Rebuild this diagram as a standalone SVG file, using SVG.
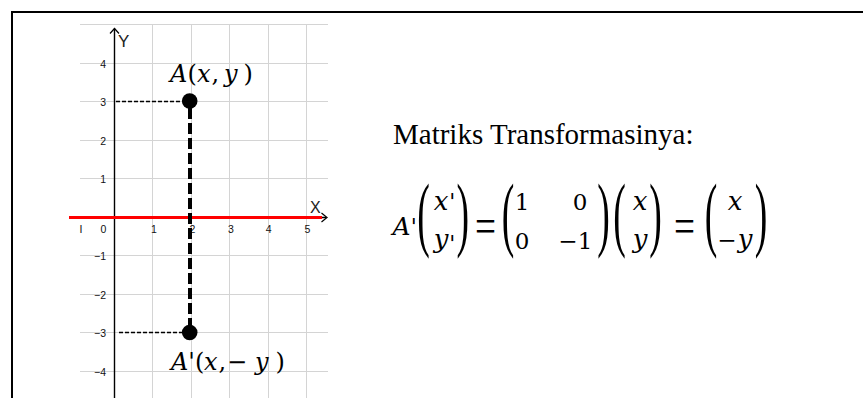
<svg xmlns="http://www.w3.org/2000/svg" width="863" height="398" viewBox="0 0 863 398">
<style>
.grid{stroke:#d4d4d4;stroke-width:1;fill:none}
.tick{font-family:"Liberation Sans",Arial,sans-serif;font-size:10.5px;fill:#111}
.axlab{font-family:"Liberation Sans",Arial,sans-serif;fill:#222}
.axis{stroke:#000;stroke-width:1.4;fill:none}
.serif{font-family:"Liberation Serif","Times New Roman",serif;fill:#000}
.math{font-family:"DejaVu Serif","Liberation Serif",serif;fill:#000}
.mi{font-family:"DejaVu Serif","Liberation Serif",serif;font-style:italic;fill:#000}
.up{font-style:normal}
.big{font-family:"Liberation Serif","Times New Roman",serif;font-size:36px;text-anchor:middle;fill:#000}
.eq{font-size:23px;text-anchor:middle}
.eqi{font-size:26px;text-anchor:middle}
.pr{font-size:22px}
.thin{stroke:#000;stroke-width:1.3;stroke-dasharray:4 2;fill:none}
.thick{stroke:#000;stroke-width:4;stroke-dasharray:11 4;fill:none}
</style>
<rect width="863" height="398" fill="#fff"/>
<path d="M12 398 V12 H863" stroke="#000" stroke-width="2" fill="none"/>

<g id="grid">
<path class="grid" d="M80 24.5H328M80 63.5H328M80 101.5H328M80 140.5H328M80 178.5H328M80 217.5H328M80 255.5H328M80 294.5H328M80 332.5H328M80 371.5H328"/>
<path class="grid" d="M152.5 24.5V398M191.5 24.5V398M229.5 24.5V398M268.5 24.5V398M306.5 24.5V398"/>
</g>

<g id="ticks">
<text class="tick" x="81" y="233" text-anchor="middle">I</text>
<text class="tick" x="103.3" y="233" text-anchor="middle">0</text>
<text class="tick" x="154" y="233" text-anchor="middle">1</text>
<text class="tick" x="192.3" y="233" text-anchor="middle">2</text>
<text class="tick" x="231" y="233" text-anchor="middle">3</text>
<text class="tick" x="268.7" y="233" text-anchor="middle">4</text>
<text class="tick" x="307.3" y="233" text-anchor="middle">5</text>
<text class="tick" x="106" y="68" text-anchor="end">4</text>
<text class="tick" x="106" y="106" text-anchor="end">3</text>
<text class="tick" x="106" y="145" text-anchor="end">2</text>
<text class="tick" x="106" y="183" text-anchor="end">1</text>
<text class="tick" x="106" y="260" text-anchor="end">−1</text>
<text class="tick" x="106" y="299" text-anchor="end">−2</text>
<text class="tick" x="106" y="337" text-anchor="end">−3</text>
<text class="tick" x="106" y="376" text-anchor="end">−4</text>
</g>

<g id="axes">
<path class="axis" d="M114.5 28.5V398"/>
<path d="M110 33.5L114.5 28.5L119 33.5" stroke="#000" stroke-width="1.2" fill="none"/>
<path class="axis" d="M80 217.5H326"/>
<path d="M321.5 213L327 217.5L321.5 222" stroke="#000" stroke-width="1.2" fill="none"/>
<text class="axlab" x="118" y="46.5" font-size="17">Y</text>
<text class="axlab" x="310" y="213" font-size="16">X</text>
</g>

<g id="mirror-line">
<path d="M69 217.5H322" stroke="#f00" stroke-width="3" fill="none"/>
</g>

<g id="connectors">
<path class="thin" d="M116 101.5H183"/>
<path class="thin" d="M119 332.5H183"/>
<path class="thick" d="M190 108V326"/>
</g>

<g id="point-A">
<circle cx="189.7" cy="101" r="7.8" fill="#000"/>
<text class="mi" font-size="24" y="81.7"><tspan x="170">A</tspan><tspan class="up" x="187.5">(</tspan><tspan x="197">x</tspan><tspan class="up" x="211.5">,</tspan><tspan class="up" font-size="4"> </tspan><tspan x="224">y</tspan><tspan class="up" x="243.5">)</tspan></text>
</g>

<g id="point-A-prime">
<circle cx="189.7" cy="332.5" r="7.8" fill="#000"/>
<text class="mi" font-size="24" y="370"><tspan x="171">A</tspan><tspan class="up" x="188.3">'(</tspan><tspan x="204">x</tspan><tspan class="up" x="218.5">,</tspan><tspan class="up" font-size="4"> </tspan><tspan class="up" x="227">−</tspan><tspan class="up" font-size="4"> </tspan><tspan x="255">y</tspan><tspan class="up" x="275.5">)</tspan></text>
</g>

<g id="matrix-text">
<text class="serif" x="393" y="144" font-size="29">Matriks Transformasinya:</text>

<text class="mi" x="392.5" y="235" font-size="25">A</text>
<text class="math pr" x="410.8" y="234">'</text>

<text class="big" transform="translate(423.5,241.4) scale(1.05,2.3)">(</text>
<text class="mi eqi" x="441" y="210">x</text>
<text class="math pr" x="449.2" y="208.5">'</text>
<text class="mi eqi" x="441" y="248">y</text>
<text class="math pr" x="449.2" y="251">'</text>
<text class="big" transform="translate(462.8,241.4) scale(1.05,2.3)">)</text>

<text class="serif" font-size="24" text-anchor="middle" y="6.4" transform="translate(485.5,229.5) scale(1.55,2.1)">=</text>

<text class="big" transform="translate(508,241.4) scale(1.05,2.3)">(</text>
<text class="math eq" x="522" y="210">1</text>
<text class="math eq" x="580" y="210">0</text>
<text class="math eq" x="522" y="249">0</text>
<text class="math eq" x="568" y="249">−</text>
<text class="math eq" x="585" y="249">1</text>
<text class="big" transform="translate(603.5,241.4) scale(1.05,2.3)">)</text>

<text class="big" transform="translate(619.5,241.4) scale(1.05,2.3)">(</text>
<text class="mi eqi" x="640" y="210">x</text>
<text class="mi eqi" x="640" y="248">y</text>
<text class="big" transform="translate(655.5,241.4) scale(1.05,2.3)">)</text>

<text class="serif" font-size="24" text-anchor="middle" y="6.4" transform="translate(684.5,229.5) scale(1.55,2.1)">=</text>

<text class="big" transform="translate(711,241.4) scale(1.05,2.3)">(</text>
<text class="mi eqi" x="735" y="210">x</text>
<text class="math eq" x="727" y="248">−</text>
<text class="mi eqi" x="745" y="248">y</text>
<text class="big" transform="translate(761,241.4) scale(1.05,2.3)">)</text>
</g>
</svg>
